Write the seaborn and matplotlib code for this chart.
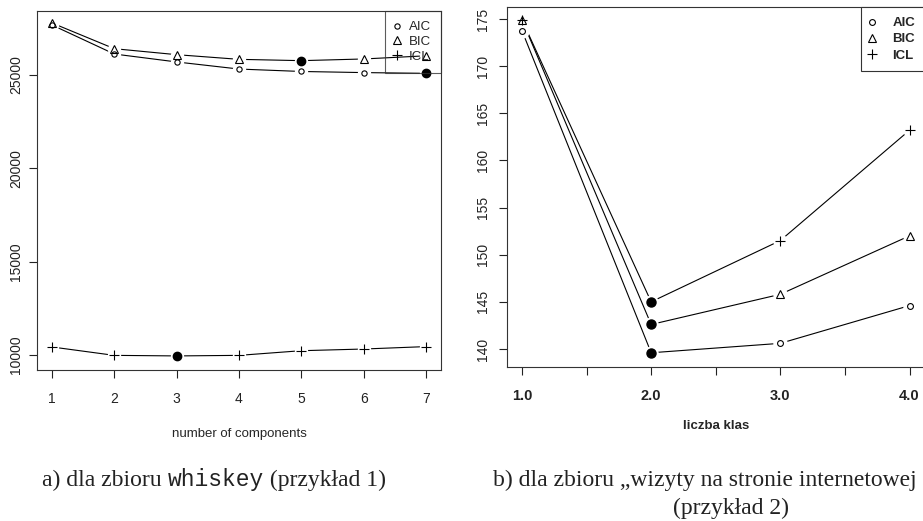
import matplotlib
matplotlib.use("Agg")
import matplotlib.pyplot as plt
import seaborn as sns
import numpy as np
import pandas as pd
from matplotlib.lines import Line2D

# ---------------- data ----------------
series_names = ["AIC", "BIC", "ICL"]
series_markers = ["o", "^", "+"]

left_k = [1, 2, 3, 4, 5, 6, 7]
left_aic = [27680, 26125, 25700, 25320, 25190, 25130, 25090]
left_bic = [27790, 26410, 26090, 25840, 25770, 25860, 26030]
left_icl = [10430, 9980, 9950, 9980, 10230, 10320, 10450]
left_xticks = [1, 2, 3, 4, 5, 6, 7]
left_xticklabels = ["1", "2", "3", "4", "5", "6", "7"]
left_yticks = [10000, 15000, 20000, 25000]
left_yticklabels = ["10000", "15000", "20000", "25000"]
left_xlabel = "number of components"

right_k = [1.0, 2.0, 3.0, 4.0]
right_aic = [173.75, 139.6, 140.6, 144.6]
right_bic = [174.9, 142.6, 145.8, 152.0]
right_icl = [174.9, 145.0, 151.5, 163.2]
right_xticks = [1.0, 1.5, 2.0, 2.5, 3.0, 3.5, 4.0]
right_xticklabels = ["1.0", "", "2.0", "", "3.0", "", "4.0"]
right_yticks = [140, 145, 150, 155, 160, 165, 170, 175]
right_yticklabels = ["140", "145", "150", "155", "160", "165", "170", "175"]
right_xlabel = "liczba klas"

caption_a_parts = ["a) dla zbioru ", "whiskey", " (przykład 1)"]
caption_b_line1 = "b) dla zbioru \u201ewizyty na stronie internetowej"
caption_b_line2 = "(przykład 2)"

# ---------------- style ----------------
sns.set_style("white")
plt.rcParams["font.family"] = ["Liberation Sans", "DejaVu Sans"]
plt.rcParams["axes.edgecolor"] = "#333333"
plt.rcParams["axes.linewidth"] = 0.8

W, H = 923, 521
fig = plt.figure(figsize=(W / 100, H / 100), dpi=100)
fig.patch.set_facecolor("white")


def px_rect(x0, y0, x1, y1):
    return [x0 / W, 1 - y1 / H, (x1 - x0) / W, (y1 - y0) / H]


axL = fig.add_axes(px_rect(37, 11, 441, 370))
axR = fig.add_axes(px_rect(506.5, 7, 925, 367))

marker_sizes_L = {"o": 3.8, "^": 5.2, "+": 7.0}
marker_sizes_R = {"o": 4.2, "^": 6.0, "+": 7.5}


def draw_series(ax, xs, ys, marker, msizes, dot_size):
    df = pd.DataFrame({"x": xs, "y": ys})
    sns.lineplot(data=df, x="x", y="y", color="black", lw=0.8, ax=ax,
                 zorder=2, estimator=None, sort=False)
    # white gaps around the points (R type="b")
    sns.scatterplot(data=df, x="x", y="y", color="white", s=(dot_size * 1.6) ** 2,
                    linewidth=0, ax=ax, zorder=3, legend=False)
    imin = int(np.argmin(ys))
    df_rest = df.drop(index=imin)
    if marker == "+":
        ax.plot(df_rest["x"], df_rest["y"], linestyle="none", marker="+",
                ms=msizes["+"], mew=0.8, color="black", zorder=4)
    else:
        ax.plot(df_rest["x"], df_rest["y"], linestyle="none", marker=marker,
                ms=msizes[marker], mew=0.8, mfc="none", mec="black", zorder=4)
    ax.plot([xs[imin]], [ys[imin]], linestyle="none", marker="o", ms=dot_size,
            mfc="black", mec="black", zorder=5)


for ys, m in zip([left_aic, left_bic, left_icl], series_markers):
    draw_series(axL, left_k, ys, m, marker_sizes_L, 6.0)
for ys, m in zip([right_aic, right_bic, right_icl], series_markers):
    draw_series(axR, right_k, ys, m, marker_sizes_R, 6.5)

# axes limits & ticks
axL.set_xlim(0.76, 7.24)
axL.set_ylim(9196, 28430)
axL.set_xticks(left_xticks)
axL.set_xticklabels(left_xticklabels, fontsize=10)
axL.set_yticks(left_yticks)
axL.set_yticklabels(left_yticklabels, fontsize=10, rotation=90, va="center")
axL.set_xlabel(left_xlabel, fontsize=9.5, labelpad=16)
axL.set_ylabel("")
axL.tick_params(axis="x", direction="out", length=6, width=0.8, pad=10, colors="#222222")
axL.tick_params(axis="y", direction="out", length=6, width=0.8, pad=4, colors="#222222")
axL.tick_params(bottom=True, left=True)

axR.set_xlim(0.88, 4.12)
axR.set_ylim(138.09, 176.27)
axR.set_xticks(right_xticks)
axR.set_xticklabels(right_xticklabels, fontsize=10.5, fontweight="bold")
axR.set_yticks(right_yticks)
axR.set_yticklabels(right_yticklabels, fontsize=10, rotation=90, va="center")
axR.set_xlabel(right_xlabel, fontsize=9.5, fontweight="bold", labelpad=12)
axR.set_ylabel("")
axR.tick_params(axis="x", direction="out", length=6, width=0.8, pad=10, colors="#222222")
axR.tick_params(axis="y", direction="out", length=6, width=0.8, pad=6, colors="#222222")
axR.tick_params(bottom=True, left=True)

for ax in (axL, axR):
    for s in ax.spines.values():
        s.set_visible(True)
        s.set_color("#333333")
        s.set_linewidth(0.8)


# legends
def make_handles(msizes):
    hs = []
    for m in series_markers:
        if m == "+":
            hs.append(Line2D([], [], linestyle="none", marker="+", ms=msizes["+"],
                             mew=0.8, color="black"))
        else:
            hs.append(Line2D([], [], linestyle="none", marker=m, ms=msizes[m],
                             mew=0.8, mfc="none", mec="black"))
    return hs


legL = axL.legend(make_handles(marker_sizes_L), series_names, loc="upper right",
                  bbox_to_anchor=(1, 1), borderaxespad=0, fancybox=False,
                  frameon=True, fontsize=9.5, labelspacing=0.19, borderpad=0.76,
                  handlelength=0.25, handletextpad=0.8)
legL.get_frame().set_linewidth(0.8)
legL.get_frame().set_facecolor("none")
legL.get_frame().set_edgecolor("#333333")

legR = axR.legend(make_handles(marker_sizes_R), series_names, loc="upper right",
                  bbox_to_anchor=(1, 1), borderaxespad=0, fancybox=False,
                  frameon=True, edgecolor="#333333", facecolor="white", framealpha=1,
                  prop={"size": 9.5, "weight": "bold"}, labelspacing=0.3,
                  borderpad=0.75, handlelength=0.15, handletextpad=1.45)
legR.get_frame().set_linewidth(0.8)

# captions
cap_size = 17.0
mono_size = 16.5
fig.canvas.draw()
renderer = fig.canvas.get_renderer()
x_cur = 42
fonts = [("Liberation Serif", cap_size), ("Liberation Mono", mono_size),
         ("Liberation Serif", cap_size)]
for part, (fam, sz) in zip(caption_a_parts, fonts):
    t = fig.text(x_cur / W, 1 - 486 / H, part, fontsize=sz,
                 family=[fam, "DejaVu Serif"], ha="left", va="baseline", color="#222222")
    bb = t.get_window_extent(renderer=renderer)
    x_cur = bb.x1

fig.text(493 / W, 1 - 486 / H, caption_b_line1, fontsize=cap_size,
         family=["Liberation Serif", "DejaVu Serif"], ha="left", va="baseline", color="#222222")
fig.text(731 / W, 1 - 514 / H, caption_b_line2, fontsize=cap_size,
         family=["Liberation Serif", "DejaVu Serif"], ha="center", va="baseline", color="#222222")

fig.savefig("out.png", dpi=100, facecolor="white")
